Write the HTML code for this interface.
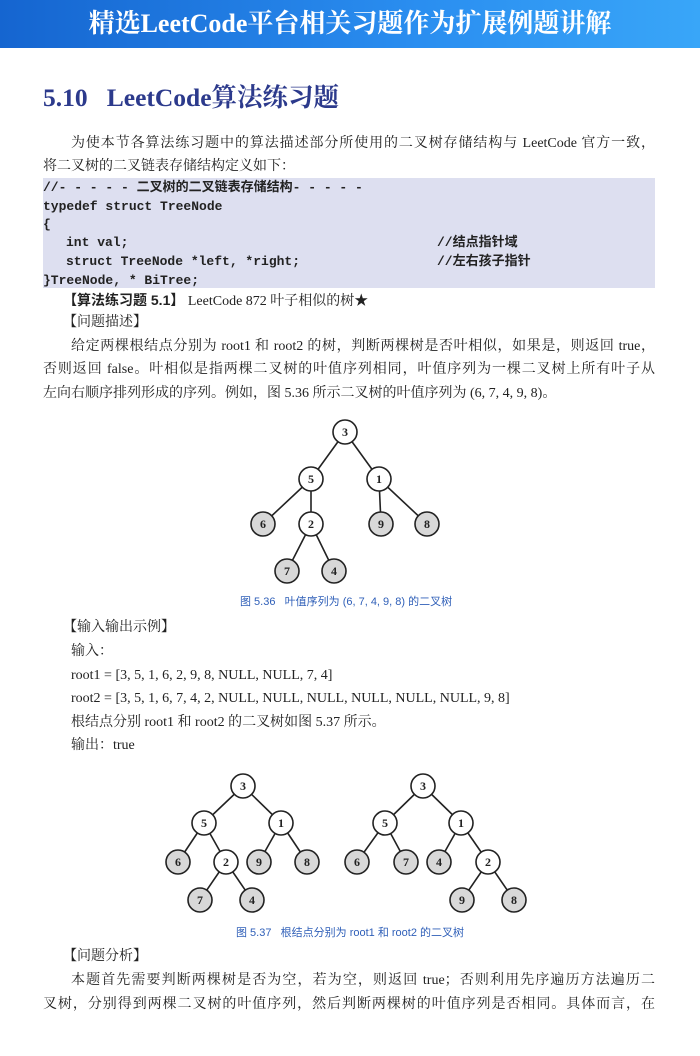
<!DOCTYPE html>
<html><head><meta charset="utf-8"><style>
body{margin:0;width:700px;height:1056px;background:#fff;position:relative;overflow:hidden;font-family:"Liberation Serif","Noto Serif CJK SC",serif;color:#222}
.bar{position:absolute;left:0;top:0;width:700px;height:48px;background:linear-gradient(90deg,#1565d0,#2a8ef0 60%,#39a6f8);color:#fff;font-family:"Liberation Serif","Noto Serif CJK SC",serif;font-size:26px;font-weight:bold;text-align:center;line-height:48px}
.h{position:absolute;left:43px;top:78px;font-size:25.5px;font-weight:bold;color:#2c3a8c;white-space:nowrap}
.t{position:absolute;font-size:14px;white-space:nowrap;line-height:18px}
.j{text-align:justify;text-align-last:justify;white-space:normal}
.code{position:absolute;left:43px;top:178px;width:612px;height:110px;background:#dddff0}
.c{position:absolute;font-family:"Liberation Mono","Noto Sans CJK SC",monospace;font-size:13px;font-weight:bold;white-space:nowrap;line-height:16px;color:#222}
.cap{position:absolute;font-family:"Liberation Sans","Noto Sans CJK SC",sans-serif;font-size:11px;color:#2f5fb8;white-space:nowrap}
</style></head><body>
<div class="bar">精选LeetCode平台相关习题作为扩展例题讲解</div>
<div class="h">5.10&nbsp;&nbsp;&nbsp;LeetCode算法练习题</div>
<div class="t j" style="left:71px;top:135px;width:584px">为使本节各算法练习题中的算法描述部分所使用的二叉树存储结构与 LeetCode 官方一致，</div>
<div class="t" style="left:43px;top:158px">将二叉树的二叉链表存储结构定义如下：</div>
<div class="code"></div>
<div class="c" style="left:43px;top:180px">//- - - - - 二叉树的二叉链表存储结构- - - - -</div>
<div class="c" style="left:43px;top:199px">typedef struct TreeNode</div>
<div class="c" style="left:43px;top:217px">{</div>
<div class="c" style="left:66px;top:235px">int val;</div>
<div class="c" style="left:437px;top:235px">//结点指针域</div>
<div class="c" style="left:66px;top:254px">struct TreeNode *left, *right;</div>
<div class="c" style="left:437px;top:254px">//左右孩子指针</div>
<div class="c" style="left:43px;top:273px">}TreeNode, * BiTree;</div>
<div class="t" style="left:63px;top:291px"><b style="font-family:'Liberation Sans','Noto Sans CJK SC',sans-serif">【算法练习题 5.1】</b> LeetCode 872 叶子相似的树★</div>
<div class="t" style="left:63px;top:314px">【问题描述】</div>
<div class="t j" style="left:71px;top:338px;width:584px">给定两棵根结点分别为 root1 和 root2 的树，判断两棵树是否叶相似，如果是，则返回 true，</div>
<div class="t j" style="left:43px;top:361px;width:612px">否则返回 false。叶相似是指两棵二叉树的叶值序列相同，叶值序列为一棵二叉树上所有叶子从</div>
<div class="t" style="left:43px;top:385px">左向右顺序排列形成的序列。例如，图 5.36 所示二叉树的叶值序列为 (6, 7, 4, 9, 8)。</div>

<svg style="position:absolute;left:0;top:0" width="700" height="1056" font-family="Liberation Serif,serif" font-size="12" font-weight="bold">
<g stroke="#222" stroke-width="1.6">
<line x1="345" y1="432" x2="311" y2="479"/><line x1="345" y1="432" x2="379" y2="479"/>
<line x1="311" y1="479" x2="263" y2="524"/><line x1="311" y1="479" x2="311" y2="524"/>
<line x1="379" y1="479" x2="381" y2="524"/><line x1="379" y1="479" x2="427" y2="524"/>
<line x1="311" y1="524" x2="287" y2="571"/><line x1="311" y1="524" x2="334" y2="571"/>
<line x1="243" y1="786" x2="204" y2="823"/><line x1="243" y1="786" x2="281" y2="823"/>
<line x1="204" y1="823" x2="178" y2="862"/><line x1="204" y1="823" x2="226" y2="862"/>
<line x1="281" y1="823" x2="259" y2="862"/><line x1="281" y1="823" x2="307" y2="862"/>
<line x1="226" y1="862" x2="200" y2="900"/><line x1="226" y1="862" x2="252" y2="900"/>
<line x1="423" y1="786" x2="385" y2="823"/><line x1="423" y1="786" x2="461" y2="823"/>
<line x1="385" y1="823" x2="357" y2="862"/><line x1="385" y1="823" x2="406" y2="862"/>
<line x1="461" y1="823" x2="439" y2="862"/><line x1="461" y1="823" x2="488" y2="862"/>
<line x1="488" y1="862" x2="462" y2="900"/><line x1="488" y1="862" x2="514" y2="900"/>
</g>
<g stroke="#222" stroke-width="1.6" text-anchor="middle">
<g fill="#fff">
<circle cx="345" cy="432" r="12"/><circle cx="311" cy="479" r="12"/><circle cx="379" cy="479" r="12"/><circle cx="311" cy="524" r="12"/>
<circle cx="243" cy="786" r="12"/><circle cx="204" cy="823" r="12"/><circle cx="281" cy="823" r="12"/><circle cx="226" cy="862" r="12"/>
<circle cx="423" cy="786" r="12"/><circle cx="385" cy="823" r="12"/><circle cx="461" cy="823" r="12"/><circle cx="488" cy="862" r="12"/>
</g>
<g fill="#d8d8d8">
<circle cx="263" cy="524" r="12"/><circle cx="381" cy="524" r="12"/><circle cx="427" cy="524" r="12"/><circle cx="287" cy="571" r="12"/><circle cx="334" cy="571" r="12"/>
<circle cx="178" cy="862" r="12"/><circle cx="259" cy="862" r="12"/><circle cx="307" cy="862" r="12"/><circle cx="200" cy="900" r="12"/><circle cx="252" cy="900" r="12"/>
<circle cx="357" cy="862" r="12"/><circle cx="406" cy="862" r="12"/><circle cx="439" cy="862" r="12"/><circle cx="462" cy="900" r="12"/><circle cx="514" cy="900" r="12"/>
</g>
</g>
<g fill="#222" stroke="none" text-anchor="middle">
<text x="345" y="436">3</text><text x="311" y="483">5</text><text x="379" y="483">1</text><text x="263" y="528">6</text><text x="311" y="528">2</text><text x="381" y="528">9</text><text x="427" y="528">8</text><text x="287" y="575">7</text><text x="334" y="575">4</text>
<text x="243" y="790">3</text><text x="204" y="827">5</text><text x="281" y="827">1</text><text x="178" y="866">6</text><text x="226" y="866">2</text><text x="259" y="866">9</text><text x="307" y="866">8</text><text x="200" y="904">7</text><text x="252" y="904">4</text>
<text x="423" y="790">3</text><text x="385" y="827">5</text><text x="461" y="827">1</text><text x="357" y="866">6</text><text x="406" y="866">7</text><text x="439" y="866">4</text><text x="488" y="866">2</text><text x="462" y="904">9</text><text x="514" y="904">8</text>
</g>
</svg>
<div class="cap" style="left:240px;top:593px">图 5.36&nbsp;&nbsp;&nbsp;叶值序列为 (6, 7, 4, 9, 8) 的二叉树</div>
<div class="t" style="left:63px;top:619px">【输入输出示例】</div>
<div class="t" style="left:71px;top:643px">输入：</div>
<div class="t" style="left:71px;top:667px">root1 = [3, 5, 1, 6, 2, 9, 8, NULL, NULL, 7, 4]</div>
<div class="t" style="left:71px;top:690px">root2 = [3, 5, 1, 6, 7, 4, 2, NULL, NULL, NULL, NULL, NULL, NULL, 9, 8]</div>
<div class="t" style="left:71px;top:714px">根结点分别 root1 和 root2 的二叉树如图 5.37 所示。</div>
<div class="t" style="left:71px;top:737px">输出：true</div>
<div class="cap" style="left:236px;top:924px">图 5.37&nbsp;&nbsp;&nbsp;根结点分别为 root1 和 root2 的二叉树</div>
<div class="t" style="left:63px;top:948px">【问题分析】</div>
<div class="t j" style="left:71px;top:972px;width:584px">本题首先需要判断两棵树是否为空，若为空，则返回 true；否则利用先序遍历方法遍历二</div>
<div class="t j" style="left:43px;top:996px;width:612px">叉树，分别得到两棵二叉树的叶值序列，然后判断两棵树的叶值序列是否相同。具体而言，在</div>
</body></html>
